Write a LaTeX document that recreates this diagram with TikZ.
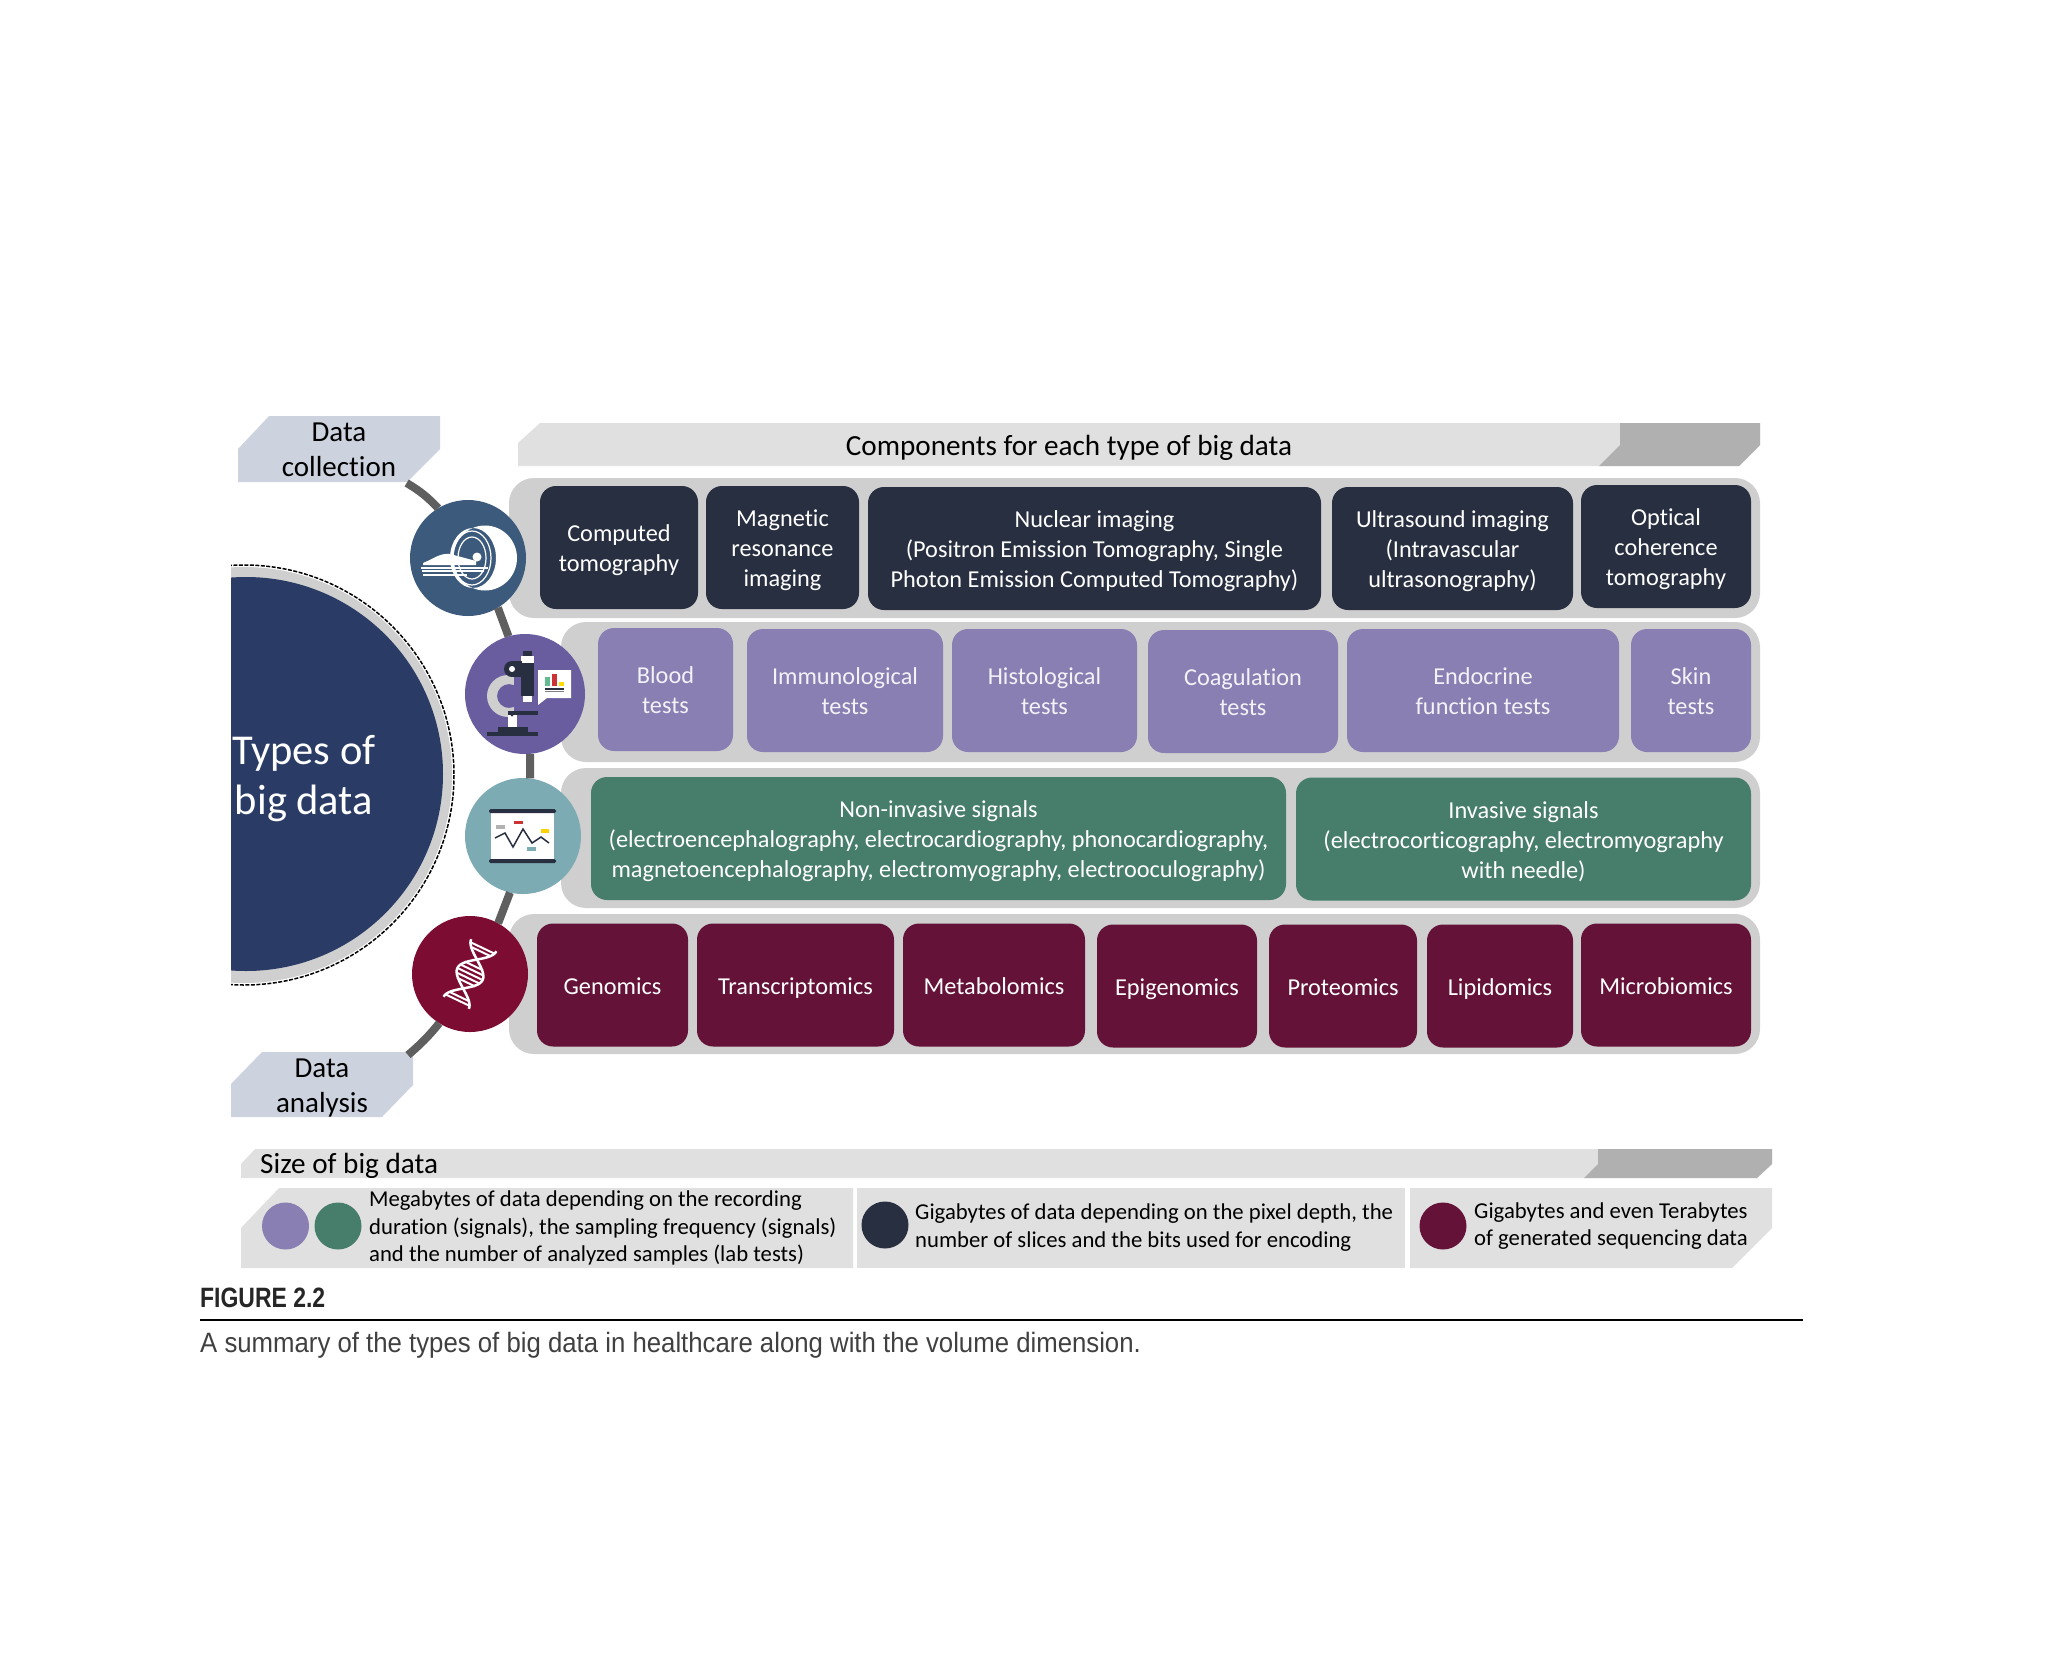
\documentclass[tikz,border=0pt]{standalone}
\usepackage{fontspec}
\setmainfont[Ligatures=CommonOff]{Carlito}
\newfontfamily\capfont[FakeStretch=0.82]{Liberation Sans}
\newfontfamily\captextfont[FakeStretch=0.92]{Liberation Sans}
\newcommand{\tf}{\rule{0pt}{24pt}}

\definecolor{rowgray}{HTML}{CFCFCF}
\definecolor{barlight}{HTML}{E0E0E0}
\definecolor{bardark}{HTML}{B0B0B0}
\definecolor{tagblue}{HTML}{CDD2DF}
\definecolor{spine}{HTML}{5F5F5F}
\definecolor{navy}{HTML}{2A3C66}
\definecolor{imgdark}{HTML}{282F40}
\definecolor{labpurple}{HTML}{8A7FB3}
\definecolor{siggreen}{HTML}{477D6B}
\definecolor{genwine}{HTML}{651238}
\definecolor{cimgfill}{HTML}{3C5A7C}
\definecolor{clabfill}{HTML}{695C9F}
\definecolor{csigfill}{HTML}{7CABB3}
\definecolor{cgenfill}{HTML}{7D0C33}

\tikzset{
    row/.style={rounded corners=25,fill=rowgray,inner sep=0,outer sep=0,minimum height=140},
    tile/.style={rounded corners=16,inner sep=0,outer sep=0,minimum height=123,text=white,align=center,
        font=\fontsize{24.3}{30}\selectfont,
        execute at end node={\rule[-6pt]{0pt}{6pt}}},
    single/.style={execute at begin node={\rule{0pt}{24pt}}},
    icon/.style={circle,inner sep=0,outer sep=0,minimum size=116},
    tag/.style={inner sep=0,outer sep=0,minimum height=66,align=center,font=\fontsize{29}{35}\selectfont},
    tagfill/.style={fill=tagblue},
    link/.style={draw=spine,line width=8},
    sizetext/.style={anchor=west,align=left,inner sep=0,font=\fontsize{22.7}{27.2}\selectfont},
    dot/.style={circle,inner sep=0,outer sep=0,minimum size=47}
}

\begin{document}
\begin{tikzpicture}[x=1pt,y=-1pt]
    \useasboundingbox (0,0) rectangle (2048,1660);

    % big half circle
    \begin{scope}
        \clip (231,540) rectangle (480,1010);
        \fill[rowgray] (244,775) circle (208);
        \draw[black,line width=1.5,dash pattern=on 4 off 1.5] (244,775) circle (210);
        \fill[navy] (246,774) circle (197);
    \end{scope}
    \node (types) at (304,778.5) [text=white,align=center,inner sep=0,font=\fontsize{42.5}{50}\selectfont] {Types of\\big data};

    % top bar
    \fill[barlight] (518,443) -- (540,423) -- (1760,423) -- (1760,445) -- (1739,466) -- (518,466) -- cycle;
    \fill[bardark] (1620,423) -- (1760,423) -- (1760,445) -- (1739,466) -- (1599,466) -- (1620,445) -- cycle;
    \node (comptitle) at (1069,447.5) [inner sep=0,font=\fontsize{29.2}{35}\selectfont] {Components for each type of big data};

    % grey rows
    \node (rowimg) at (1134.5,548) [row,minimum width=1251] {};
    \node (rowlab) at (1160.5,692) [row,minimum width=1199] {};
    \node (rowsig) at (1160.5,838) [row,minimum width=1199] {};
    \node (rowgen) at (1134.5,984) [row,minimum width=1251] {};

    % imaging
    \begin{scope}[every node/.style={tile,fill=imgdark}]
        \node (ct) at (619,547.5) [minimum width=158] {\tf Computed\\tomography};
        \node (mr) at (782.5,547.5) [minimum width=153] {\tf Magnetic\\resonance\\imaging};
        \node (nuc) at (1094.5,548.5) [minimum width=453] {\tf Nuclear imaging\\(Positron Emission Tomography, Single\\Photon Emission Computed Tomography)};
        \node (us) at (1452.5,548.5) [minimum width=241] {\tf Ultrasound imaging\\(Intravascular\\ultrasonography)};
        \node (oct) at (1666,546.5) [minimum width=170] {\tf Optical\\coherence\\tomography};
    \end{scope}

    % lab tests
    \begin{scope}[every node/.style={tile,fill=labpurple,text=white!90!labpurple}]
        \node (blood) at (665.5,689.5) [minimum width=135] {\tf Blood\\tests};
        \node (immu) at (845,690.5) [minimum width=196] {\tf Immunological\\tests};
        \node (histo) at (1044.5,690.5) [minimum width=185] {\tf Histological\\tests};
        \node (coag) at (1243,691.5) [minimum width=190] {\tf Coagulation\\tests};
        \node (endo) at (1483,690.5) [minimum width=272] {\tf Endocrine\\function tests};
        \node (skin) at (1691,690.5) [minimum width=120] {\tf Skin\\tests};
    \end{scope}

    % signals
    \begin{scope}[every node/.style={tile,fill=siggreen}]
        \node (noninv) at (938.5,838.5) [minimum width=695] {\tf Non-invasive signals\\(electroencephalography, electrocardiography, phonocardiography,\\magnetoencephalography, electromyography, electrooculography)};
        \node (inv) at (1523.5,839) [minimum width=455] {\tf Invasive signals\\(electrocorticography, electromyography\\with needle)};
    \end{scope}

    % omics
    \begin{scope}[every node/.style={tile,single,fill=genwine}]
        \node (geno) at (612.5,985) [minimum width=151] {Genomics};
        \node (trans) at (795.5,985) [minimum width=197] {Transcriptomics};
        \node (meta) at (994,985) [minimum width=182] {Metabolomics};
        \node (epi) at (1177,986) [minimum width=160] {Epigenomics};
        \node (prot) at (1343,986) [minimum width=148] {Proteomics};
        \node (lipid) at (1500,986) [minimum width=146] {Lipidomics};
        \node (micro) at (1666,985) [minimum width=170] {Microbiomics};
    \end{scope}

    % spine
    \fill[tagfill] (238,449) -- (269,416) -- (440,416) -- (440,449) -- (407,482) -- (238,482) -- cycle;
    \fill[tagfill] (231,1084) -- (262,1052) -- (413,1052) -- (413,1085) -- (382,1117) -- (231,1117) -- cycle;
    \node (collect) at (339,450) [tag,minimum width=202] {Data\\collection};
    \node (analysis) at (322,1088) [tag,minimum width=182] {Data\\analysis};
    \node (cimg) at (468,558) [icon,fill=cimgfill] {};
    \node (clab) at (525,694) [icon,fill=clabfill,minimum size=120] {};
    \node (csig) at (523,836) [icon,fill=csigfill] {};
    \node (cgen) at (470,974) [icon,fill=cgenfill] {};
    \draw[link] (collect.334) to[bend left=8] (cimg.121);
    \draw[link] (cimg.301) to (clab.106);
    \draw[link] (clab.275) to (csig.83);
    \draw[link] (csig.257) to (cgen.61);
    \draw[link] (cgen.238) to[bend left=5] (analysis.21);

    % scanner
    \fill[white,even odd rule] (485,558) ellipse [x radius=32,y radius=32.5] (473,558) ellipse [x radius=23,y radius=30];
    \draw[white,line width=1.2] (472,558) ellipse [x radius=19,y radius=27];
    \draw[white,line width=1.2] (472,558) ellipse [x radius=14,y radius=21];
    \fill[white] (477,557) circle (4.5);
    \fill[white] (423,563) .. controls (435,558) and (440,553) .. (450,554) -- (476,561) -- (476,565) -- (423,565) -- cycle;
    \fill[white] (421,566.5) rectangle (488,568.5);
    \fill[white] (422,570) rectangle (484,572);
    \fill[white] (423,573.5) rectangle (467,575.5);

    % microscope
    \fill[rowgray,even odd rule] (508,696) circle (21) (509,696) circle (12);
    \fill[clabfill] (514,670) rectangle (540,712);
    \fill[imgdark] (523,651) rectangle (532,656);
    \fill[white] (521,656) rectangle (534,663);
    \fill[imgdark] (521,663) rectangle (534,696);
    \fill[white] (523,696) rectangle (532,702);
    \fill[imgdark] (512,669) circle (8);
    \fill[imgdark] (512,661) rectangle (522,677);
    \fill[white] (512,669) circle (3);
    \fill[imgdark] (508,711) rectangle (538,715);
    \fill[white] (508,715) rectangle (517,727);
    \fill[imgdark] (512,715) circle (1.5);
    \fill[imgdark] (498,727) rectangle (528,732);
    \fill[imgdark] (487,732) rectangle (538,736);
    \fill[white] (538,670) -- (571,670) -- (571,698) -- (547,698) -- (538,705) -- cycle;
    \fill[csigfill!80!green] (545,677) rectangle (550,686);
    \fill[red!60!gray] (552,674) rectangle (557,686);
    \fill[yellow!80!orange] (559,682) rectangle (564,686);
    \fill[imgdark] (545,688) rectangle (564,689.5);
    \fill[gray] (545,691) rectangle (564,692);

    % board
    \fill[white] (491,813) rectangle (554,859);
    \fill[imgdark,rounded corners=1.5] (489,809) rectangle (556,813);
    \fill[imgdark,rounded corners=1.5] (489,859) rectangle (556,863);
    \draw[imgdark,line width=1.5] (495,838) -- (505,833) -- (513,847) -- (523,829) -- (532,843) -- (541,837) -- (549,843);
    \fill[gray!60] (496,825) rectangle (505,829);
    \fill[red!60!gray] (514,821) rectangle (523,824);
    \fill[yellow!70!orange] (541,829) rectangle (549,833);
    \fill[csigfill] (527,847) rectangle (536,851);

    % helix
    \draw[white,line width=2.5] plot[domain=-32:32,samples=40,smooth] ({470+.43*\x+14*cos(5.6*\x)*.9},{974-.9*\x+14*cos(5.6*\x)*.43});
    \draw[white,line width=2.5] plot[domain=-32:32,samples=40,smooth] ({470+.43*\x-14*cos(5.6*\x)*.9},{974-.9*\x-14*cos(5.6*\x)*.43});
    \foreach \t/\w in {-9/10,-4.5/12,0/13,4.5/12,9/10,-29/13,-25/10,25/10,29/13}
        \draw[white,line width=2] ({470+.43*\t+\w*.9},{974-.9*\t+\w*.43}) -- ({470+.43*\t-\w*.9},{974-.9*\t-\w*.43});

    % size of big data
    \fill[barlight] (241,1164) -- (255,1149) -- (1772,1149) -- (1772,1164) -- (1757,1178) -- (241,1178) -- cycle;
    \fill[bardark] (1598,1149) -- (1772,1149) -- (1772,1164) -- (1757,1178) -- (1584,1178) -- (1598,1164) -- cycle;
    \node (sizetitle) at (260,1166) [anchor=west,inner sep=0,font=\fontsize{29.2}{35}\selectfont] {Size of big data};

    \fill[barlight] (241,1228) -- (279,1188) -- (853,1188) -- (853,1268) -- (241,1268) -- cycle;
    \fill[barlight] (857,1188) rectangle (1405,1268);
    \fill[barlight] (1410,1188) -- (1772,1188) -- (1772,1228) -- (1732,1268) -- (1410,1268) -- cycle;

    \node (d1) at (285.5,1226) [dot,fill=labpurple] {};
    \node (d2) at (338,1226) [dot,fill=siggreen] {};
    \node (d3) at (885,1225) [dot,fill=imgdark] {};
    \node (d4) at (1443,1226) [dot,fill=genwine] {};
    \node (s1) at (369,1228) [sizetext] {Megabytes of data depending on the recording\\duration (signals), the sampling frequency (signals)\\and the number of analyzed samples (lab tests)};
    \node (s2) at (915,1227.5) [sizetext] {Gigabytes of data depending on the pixel depth, the\\number of slices and the bits used for encoding};
    \node (s3) at (1474,1226) [sizetext] {Gigabytes and even Terabytes\\of generated sequencing data};

    % caption
    \node (figlabel) at (200,1298) [anchor=west,inner sep=0,text=black!85,font=\capfont\bfseries\fontsize{28}{32}\selectfont] {FIGURE 2.2};
    \draw[black,line width=2] (200,1320) -- (1803,1320);
    \node (caption) at (200,1345.5) [anchor=west,inner sep=0,text=black!75,font=\captextfont\fontsize{28}{32}\selectfont] {A summary of the types of big data in healthcare along with the volume dimension.};
\end{tikzpicture}
\end{document}
